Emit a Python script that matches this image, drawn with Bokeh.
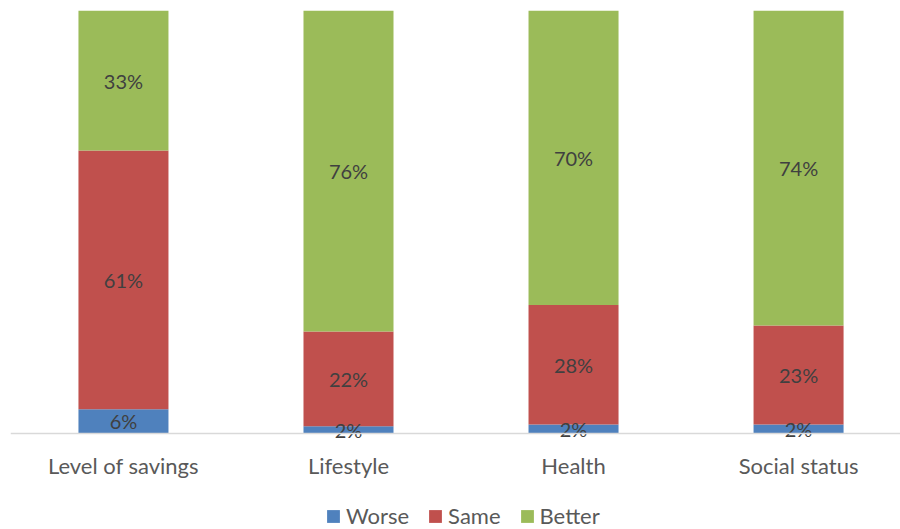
from bokeh.plotting import figure
from bokeh.models import ColumnDataSource, Legend, LegendItem, Span
from bokeh.core.properties import value
from bokeh.embed import file_html
from bokeh.resources import INLINE

categories = ["Level of savings", "Lifestyle", "Health", "Social status"]
series = ["Worse", "Same", "Better"]
worse = [5.7, 1.7, 2.1, 2.1]
same = [61.2, 22.4, 28.3, 23.4]
better = [33.1, 75.9, 69.6, 74.5]
colors = ["#4F81BD", "#C0504D", "#9BBB59"]

FONT = "Lato"
xs = list(range(len(categories)))

src = ColumnDataSource(dict(x=xs, Worse=worse, Same=same, Better=better))

p = figure(width=900, height=529, output_backend="svg", toolbar_location=None,
           x_range=(-0.502, 3.453), y_range=(-22.7, 100),
           x_axis_location=None, y_axis_location=None,
           min_border_left=10, min_border_right=0, min_border_top=10,
           min_border_bottom=0)
p.outline_line_color = None
p.xgrid.visible = False
p.ygrid.visible = False
p.background_fill_color = "white"
p.border_fill_color = "white"

rs = p.vbar_stack(series, x="x", width=0.4, color=colors, line_color=None, source=src)

# baseline (category axis line)
p.add_layout(Span(location=0, dimension="width", line_color="#D9D9D9", line_width=1.5))

# data labels
lx, ly, lt = [], [], []
for i in xs:
    base = 0
    for vals in (worse, same, better):
        v = vals[i]
        lx.append(i)
        ly.append(base + v / 2)
        lt.append(f"{round(v)}%")
        base += v
p.text(x=lx, y=ly, text=lt, text_align="center", text_baseline="middle",
       text_font=value(FONT), text_font_size="20px", text_color="#404040")

# category labels under the baseline
p.text(x=xs, y=[0] * len(xs), text=categories, y_offset=32,
       text_align="center", text_baseline="middle",
       text_font=value(FONT), text_font_size="22px", text_color="#595959")

legend = Legend(items=[LegendItem(label=s, renderers=[r]) for s, r in zip(series, rs)],
                orientation="horizontal", location=(315, 0),
                label_text_font=FONT, label_text_font_size="22px",
                label_text_color="#595959", glyph_width=16, glyph_height=16,
                label_standoff=5, spacing=18, border_line_color=None,
                background_fill_alpha=0, padding=0, margin=0)
p.add_layout(legend, "center")

html = file_html(p, INLINE)
open("out.html", "w").write(html)
